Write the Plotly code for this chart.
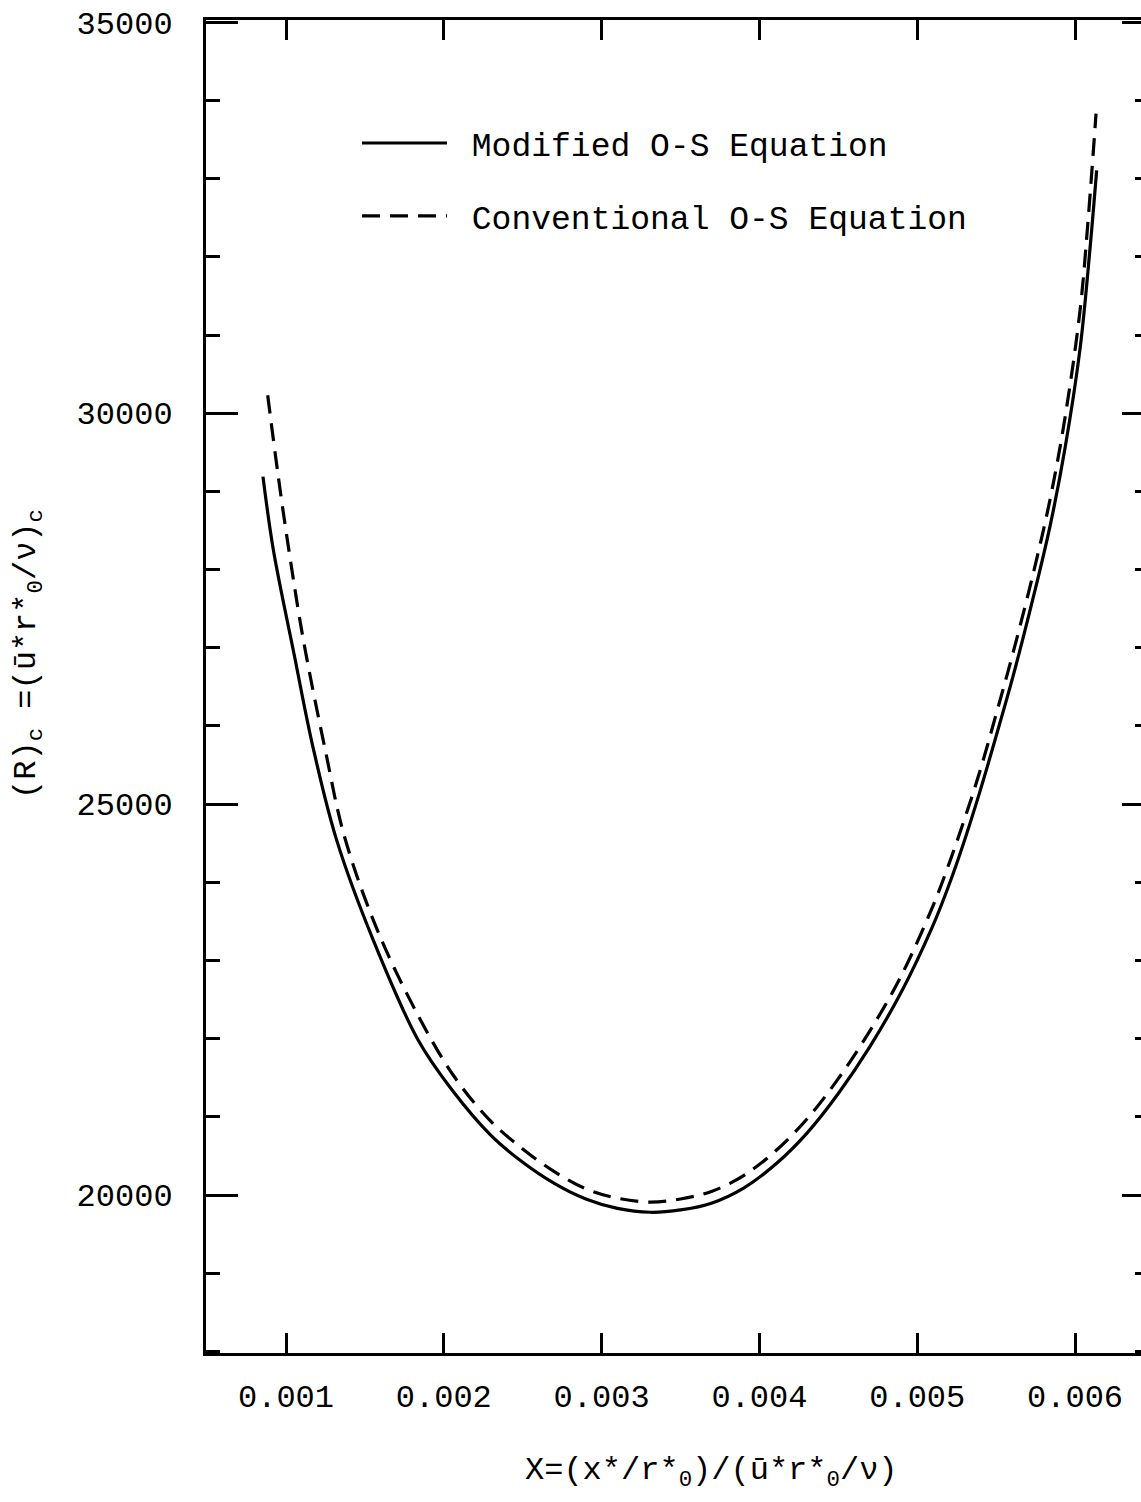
import plotly.graph_objects as go

# Critical Reynolds number versus axial position for two forms of the O-S equation
modified_x = [0.000854, 0.000920, 0.001050, 0.001173, 0.001321, 0.001553, 0.001838,
              0.002050, 0.002300, 0.002500, 0.002700, 0.002900, 0.003100, 0.003307,
              0.003500, 0.003700, 0.003900, 0.004100, 0.004300, 0.004500, 0.004700,
              0.004900, 0.005100, 0.005200, 0.005300, 0.005400, 0.005500, 0.005609,
              0.005736, 0.005842, 0.005937, 0.006032, 0.006095, 0.006137]
modified_r = [29190, 28250, 26930, 25710, 24540, 23260, 21980,
              21350, 20760, 20420, 20150, 19950, 19830, 19780,
              19810, 19900, 20090, 20390, 20790, 21300, 21900,
              22600, 23450, 23960, 24540, 25180, 25870, 26650,
              27650, 28560, 29560, 30830, 32110, 33107]

conventional_x = [0.000884, 0.000951, 0.001025, 0.001110, 0.001247, 0.001374, 0.001606,
                  0.001923, 0.002100, 0.002300, 0.002500, 0.002700, 0.002900, 0.003100,
                  0.003307, 0.003500, 0.003700, 0.003900, 0.004100, 0.004300, 0.004500,
                  0.004700, 0.004900, 0.005100, 0.005200, 0.005300, 0.005400, 0.005500,
                  0.005609, 0.005736, 0.005842, 0.005937, 0.006032, 0.006080, 0.006133]
conventional_r = [30230, 29190, 28160, 27100, 25710, 24560, 23260,
                  21980, 21420, 20940, 20590, 20300, 20080, 19960,
                  19910, 19950, 20050, 20250, 20560, 20970, 21490,
                  22100, 22810, 23700, 24230, 24810, 25440, 26150,
                  26950, 27960, 28900, 29950, 31320, 32400, 33832]

x_ticks = [0.001, 0.002, 0.003, 0.004, 0.005, 0.006]
x_tick_labels = ["0.001", "0.002", "0.003", "0.004", "0.005", "0.006"]
y_ticks = [20000, 25000, 30000, 35000]
y_tick_labels = ["20000", "25000", "30000", "35000"]

FONT = "Courier New, Liberation Mono, monospace"
X_RANGE = [0.000493, 0.006418]
Y_RANGE = [17980, 35030]

fig = go.Figure()
fig.add_trace(go.Scatter(
    x=modified_x, y=modified_r, mode="lines", name="\u00a0Modified O-S Equation",
    line=dict(color="black", width=3.2, shape="spline", smoothing=1.0),
    legendgroup="a",
))
# second curve sits on the right-hand axis, which shares the left one's range
fig.add_trace(go.Scatter(
    x=conventional_x, y=conventional_r, mode="lines", yaxis="y2",
    name="\u00a0Conventional O-S Equation",
    line=dict(color="black", width=3.2, dash="18px,10px", shape="spline", smoothing=1.0),
    legendgroup="b",
))

fig.update_layout(
    width=1141, height=1502,
    margin=dict(l=206, r=0, t=20, b=149),
    paper_bgcolor="white", plot_bgcolor="white",
    font=dict(family=FONT, size=32, color="black"),
    showlegend=True,
    legend=dict(
        x=0.1615, y=0.9287, xanchor="left", yanchor="top",
        bgcolor="rgba(0,0,0,0)", font=dict(family=FONT, size=33, color="black"),
        itemwidth=85, tracegroupgap=27, itemclick=False,
    ),
    xaxis=dict(
        range=X_RANGE, tickvals=x_ticks, ticktext=x_tick_labels,
        showgrid=False, zeroline=False,
        showline=True, linecolor="black", linewidth=3, mirror="ticks",
        ticks="inside", ticklen=20, tickwidth=3, tickcolor="black",
        ticklabelstandoff=13,
        tickfont=dict(family=FONT, size=32, color="black"),
    ),
    yaxis=dict(
        range=Y_RANGE, tickvals=y_ticks, ticktext=y_tick_labels,
        showgrid=False, zeroline=False,
        showline=True, linecolor="black", linewidth=3, mirror=False,
        ticks="inside", ticklen=32, tickwidth=3, tickcolor="black",
        minor=dict(dtick=1000, tick0=0, ticks="inside", ticklen=14,
                   tickwidth=3, tickcolor="black", showgrid=False),
        ticklabelstandoff=24,
        tickfont=dict(family=FONT, size=32, color="black"),
    ),
    yaxis2=dict(
        range=Y_RANGE, overlaying="y", side="right", anchor="x",
        tickvals=y_ticks, showticklabels=False,
        showgrid=False, zeroline=False, showline=False,
        ticks="inside", ticklen=19, tickwidth=3, tickcolor="black",
        minor=dict(dtick=1000, tick0=0, ticks="inside", ticklen=6,
                   tickwidth=3, tickcolor="black", showgrid=False),
    ),
)

fig.add_annotation(
    text="X=(x*/r*<sub>0</sub>)/(ū*r*<sub>0</sub>/ν)",
    xref="paper", yref="paper", x=0.541, y=-0.0893,
    xanchor="center", yanchor="middle", showarrow=False,
    font=dict(family=FONT, size=32, color="black"),
)
fig.add_annotation(
    text="(R)<sub>c</sub> =(ū*r*<sub>0</sub>/ν)<sub>c</sub>",
    xref="paper", yref="paper", x=-0.1893, y=0.5244,
    xanchor="center", yanchor="middle", textangle=-90, showarrow=False,
    font=dict(family=FONT, size=32, color="black"),
)

fig.write_html("out.html")
